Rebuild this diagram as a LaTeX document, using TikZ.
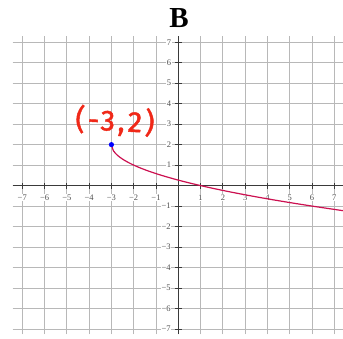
\documentclass[tikz,border=0pt]{standalone}
\usepackage{fontspec}
\setmainfont{Liberation Serif}
\newfontfamily\handfont[LetterSpace=10,FakeBold=1.5]{Fira Sans}
\definecolor{gridc}{HTML}{B8B8B8}
\definecolor{axisc}{HTML}{3A3A3A}
\definecolor{curvec}{HTML}{CC1050}
\definecolor{handc}{HTML}{F02818}
\definecolor{labc}{HTML}{505050}
\tikzset{
  gridline/.style={draw=gridc, line width=0.9pt},
  axisline/.style={draw=axisc, line width=0.8pt},
  ticklab/.style={font=\fontsize{8.5}{9}\selectfont, text=labc, fill=white, inner sep=0.6pt},
  curve/.style={draw=curvec, line width=1.2pt},
}
\begin{document}
\begin{tikzpicture}[x=1pt,y=-1pt]
\useasboundingbox (0,0) rectangle (343,339);
\fill[white] (0,0) rectangle (343,339);
\node[font=\fontsize{29}{29}\selectfont\bfseries] (title) at (179,18) {B};
\begin{scope}[shift={(178.3,185.6)}, x=22.29pt, y=20.48pt]
  \foreach \k in {-7,...,7} {
    \draw[gridline] (-7.43,\k) -- (7.5,\k);
    \draw[gridline] (\k,-7.25) -- (\k,7.3);
  }
  \draw[axisline] (-7.43,0) -- (7.5,0);
  \draw[axisline] (0,-7.25) -- (0,7.3);
  \foreach \k in {-7,...,-1,1,2,...,7} {
    \draw[axisline] (\k,-0.15) -- (\k,0.15);
    \draw[axisline] (-0.15,\k) -- (0.15,\k);
  }
  \foreach \k in {1,...,7} {
    \node[ticklab] (xl\k) at (\k,-0.59) {\k};
    \node[ticklab] (xm\k) at (-\k,-0.59) {−\k};
    \node[ticklab] (yl\k) at (-0.42,\k) {\k};
    \node[ticklab] (ym\k) at (-0.55,-\k) {−\k};
  }
  \draw[curve] plot[domain=-3:7.45, samples=120, smooth] (\x,{2-sqrt(\x+3)});
  \coordinate (P) at (-3,2);
  \fill[blue] (P) circle (2.6pt);
  \node[text=handc, font=\handfont\fontsize{29}{29}\selectfont, inner sep=0pt, rotate=-3] (lab) at (-2.84,3.15) {(-3,2)};
\end{scope}
\end{tikzpicture}
\end{document}
